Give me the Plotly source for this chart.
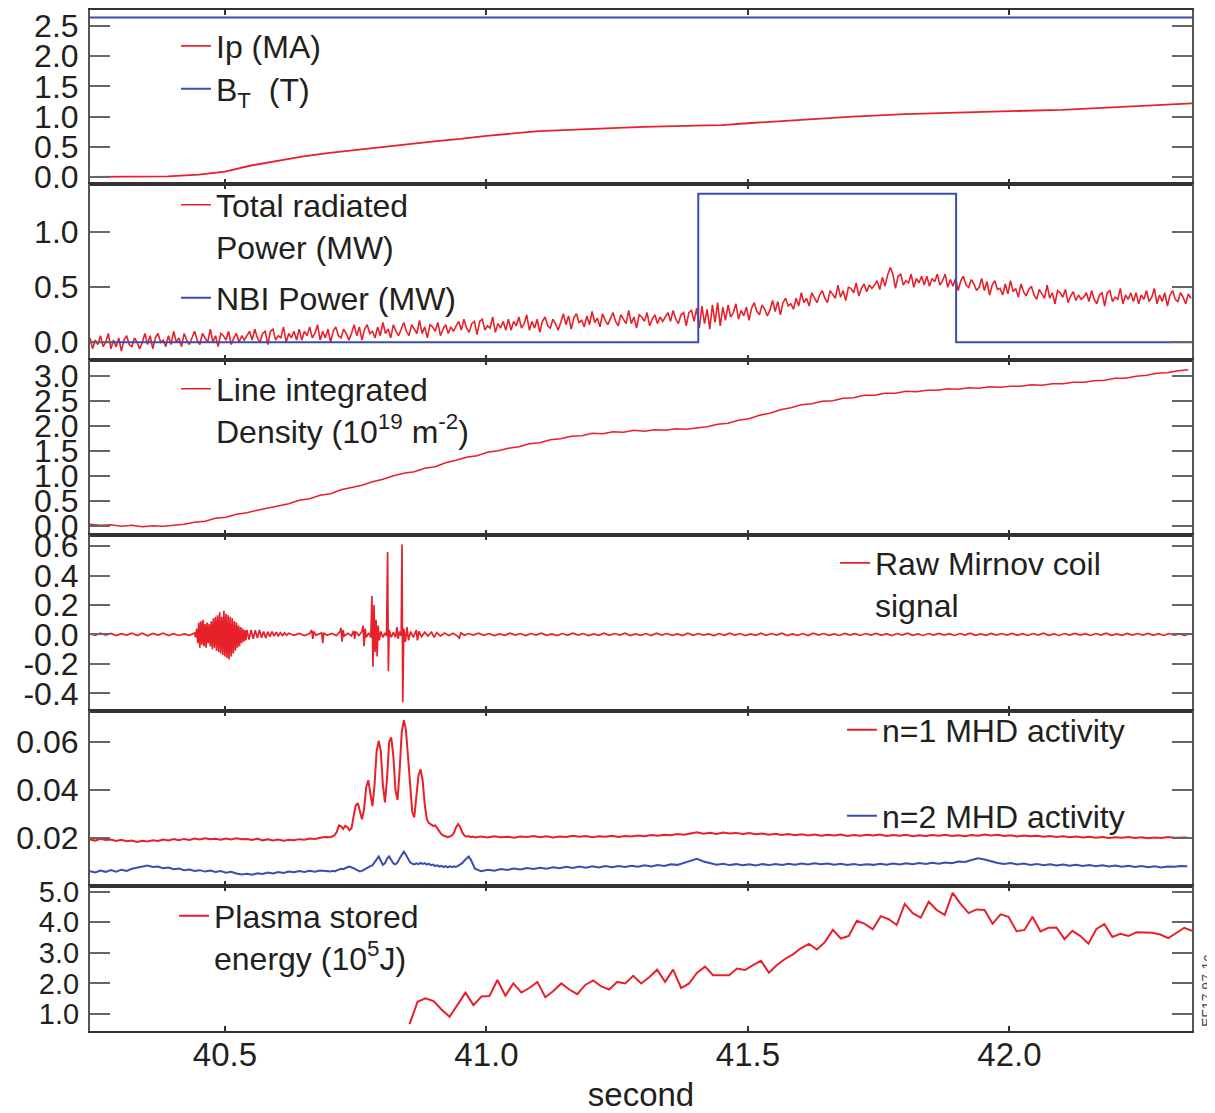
import numpy as np
import plotly.graph_objects as go
from plotly.subplots import make_subplots

# ---------------- data ----------------
x_range = [40.242, 42.349]
x_tickvals = [40.5, 41.0, 41.5, 42.0]
x_ticktext = ["40.5", "41.0", "41.5", "42.0"]

# Panel 1: plasma current and toroidal field
ip_t = [40.242, 40.30, 40.39, 40.45, 40.50, 40.55, 40.60, 40.65, 40.70, 40.75,
        40.80, 40.85, 40.90, 40.95, 41.00, 41.10, 41.20, 41.30, 41.40, 41.45,
        41.50, 41.60, 41.70, 41.80, 41.90, 42.00, 42.10, 42.20, 42.30, 42.349]
ip_v = [0.0, 0.0, 0.01, 0.04, 0.09, 0.19, 0.27, 0.34, 0.40, 0.45,
        0.50, 0.55, 0.59, 0.63, 0.68, 0.76, 0.80, 0.83, 0.85, 0.86,
        0.89, 0.95, 1.00, 1.04, 1.07, 1.09, 1.11, 1.15, 1.19, 1.22]
bt_t = [40.242, 42.349]
bt_v = [2.64, 2.64]

# Panel 2: radiated power (sampled every 5 ms) and NBI power
prad_t0, prad_dt = 40.242, 0.005
prad_v = [
    0.04, -0.06, 0.02, -0.02, 0.06, -0.04, 0.00, 0.08, -0.06, 0.02, -0.04, 0.04, -0.08, 0.02, 0.06, -0.02, -0.04, 0.04, 0.00, -0.06,
    0.00, 0.08, -0.02, 0.06, -0.06, 0.04, 0.08, 0.00, 0.02, -0.04, 0.06, -0.02, 0.10, 0.00, 0.04, -0.04, 0.08, 0.02, -0.02, 0.04,
    0.10, 0.02, -0.02, 0.08, 0.04, 0.00, 0.12, 0.00, 0.06, -0.04, 0.08, 0.06, 0.02, 0.10, -0.02, 0.04, 0.08, 0.00, 0.06, 0.02,
    0.06, 0.10, 0.02, 0.12, 0.04, 0.00, 0.08, 0.10, -0.02, 0.10, 0.12, 0.02, 0.06, 0.04, 0.14, 0.00, 0.08, 0.04, 0.10, 0.02,
    0.12, 0.02, 0.10, 0.06, 0.14, 0.04, 0.08, 0.16, 0.02, 0.10, 0.04, 0.12, 0.00, 0.10, 0.14, 0.06, 0.04, 0.12, 0.08, 0.02,
    0.08, 0.16, 0.06, 0.14, 0.02, 0.12, 0.16, 0.08, 0.10, 0.04, 0.14, 0.06, 0.18, 0.08, 0.12, 0.04, 0.16, 0.10, 0.06, 0.12,
    0.18, 0.10, 0.06, 0.16, 0.12, 0.08, 0.20, 0.08, 0.14, 0.04, 0.16, 0.14, 0.10, 0.18, 0.06, 0.12, 0.16, 0.08, 0.14, 0.10,
    0.15, 0.19, 0.11, 0.21, 0.13, 0.09, 0.17, 0.19, 0.07, 0.19, 0.21, 0.11, 0.15, 0.13, 0.23, 0.09, 0.17, 0.13, 0.19, 0.11,
    0.21, 0.11, 0.19, 0.15, 0.23, 0.13, 0.17, 0.25, 0.11, 0.19, 0.13, 0.21, 0.09, 0.19, 0.23, 0.15, 0.13, 0.21, 0.17, 0.11,
    0.18, 0.26, 0.16, 0.24, 0.12, 0.22, 0.26, 0.18, 0.20, 0.14, 0.24, 0.16, 0.28, 0.18, 0.22, 0.14, 0.26, 0.20, 0.16, 0.22,
    0.27, 0.19, 0.15, 0.25, 0.21, 0.17, 0.29, 0.17, 0.23, 0.13, 0.25, 0.23, 0.19, 0.27, 0.15, 0.21, 0.25, 0.17, 0.23, 0.19,
    0.23, 0.27, 0.19, 0.29, 0.21, 0.17, 0.25, 0.27, 0.15, 0.27, 0.29, 0.19, 0.31, 0.13, 0.33, 0.17, 0.30, 0.12, 0.34, 0.18,
    0.36, 0.15, 0.32, 0.20, 0.34, 0.23, 0.27, 0.35, 0.21, 0.29, 0.24, 0.32, 0.20, 0.31, 0.36, 0.28, 0.25, 0.34, 0.30, 0.24,
    0.29, 0.38, 0.28, 0.37, 0.25, 0.36, 0.40, 0.33, 0.35, 0.30, 0.40, 0.33, 0.45, 0.36, 0.40, 0.33, 0.45, 0.40, 0.36, 0.43,
    0.47, 0.40, 0.36, 0.47, 0.43, 0.40, 0.52, 0.41, 0.47, 0.38, 0.50, 0.49, 0.45, 0.54, 0.42, 0.49, 0.53, 0.46, 0.52, 0.49,
    0.52, 0.56, 0.48, 0.59, 0.51, 0.61, 0.68, 0.62, 0.49, 0.60, 0.62, 0.52, 0.56, 0.54, 0.62, 0.50, 0.58, 0.54, 0.60, 0.52,
    0.60, 0.51, 0.58, 0.55, 0.62, 0.52, 0.56, 0.62, 0.50, 0.57, 0.51, 0.58, 0.47, 0.56, 0.60, 0.52, 0.50, 0.57, 0.53, 0.47,
    0.50, 0.58, 0.47, 0.55, 0.43, 0.52, 0.56, 0.48, 0.49, 0.43, 0.53, 0.44, 0.56, 0.46, 0.49, 0.41, 0.53, 0.46, 0.42, 0.48,
    0.51, 0.43, 0.39, 0.48, 0.44, 0.40, 0.52, 0.40, 0.45, 0.35, 0.47, 0.45, 0.41, 0.48, 0.36, 0.42, 0.46, 0.38, 0.43, 0.39,
    0.41, 0.45, 0.37, 0.47, 0.39, 0.35, 0.43, 0.45, 0.33, 0.45, 0.47, 0.37, 0.41, 0.39, 0.49, 0.35, 0.43, 0.39, 0.45, 0.37,
    0.45, 0.35, 0.43, 0.39, 0.47, 0.37, 0.41, 0.49, 0.35, 0.43, 0.37, 0.45, 0.33, 0.43, 0.47, 0.39, 0.37, 0.45, 0.41, 0.35, 0.44, 0.40]
nbi_t = [40.242, 41.405, 41.898, 42.349]
nbi_v = [0.0, 1.35, 0.0, 0.0]

# Panel 3: line integrated density (sampled every 20 ms)
dens_t0, dens_dt = 40.242, 0.02
dens_v = [0.03, 0.01, 0.02, -0.01, 0.01, -0.02, 0.00, -0.01, 0.01, 0.03,
          0.07, 0.09, 0.15, 0.17, 0.23, 0.26, 0.31, 0.35, 0.40, 0.44,
          0.51, 0.54, 0.61, 0.64, 0.72, 0.76, 0.81, 0.88, 0.93, 1.00,
          1.05, 1.08, 1.15, 1.18, 1.26, 1.31, 1.37, 1.40, 1.47, 1.50,
          1.55, 1.58, 1.64, 1.66, 1.72, 1.74, 1.79, 1.80, 1.85, 1.84,
          1.88, 1.87, 1.91, 1.89, 1.92, 1.91, 1.94, 1.93, 1.96, 1.98,
          2.03, 2.05, 2.11, 2.14, 2.21, 2.25, 2.32, 2.36, 2.42, 2.44,
          2.49, 2.50, 2.55, 2.56, 2.61, 2.61, 2.65, 2.65, 2.69, 2.68,
          2.71, 2.71, 2.74, 2.73, 2.76, 2.75, 2.78, 2.77, 2.79, 2.79,
          2.82, 2.81, 2.84, 2.84, 2.87, 2.87, 2.90, 2.91, 2.95, 2.95,
          2.99, 3.01, 3.05, 3.06, 3.10, 3.12]

# Panel 4: raw Mirnov coil signal
mir_base_t0, mir_base_dt = 40.242, 0.01
mir_base_v = [0.004, -0.007, 0.008, -0.005, 0.007, -0.008, 0.005, -0.004, 0.009, -0.007,
              0.008, -0.009, 0.007, -0.005, 0.009, -0.008, 0.005, -0.007, 0.004, -0.006]
mir_burst_t0, mir_burst_dt = 40.442, 0.002
mir_burst_v = [0.01, -0.02, 0.04, -0.06, 0.08, -0.09, 0.09, -0.07, 0.10, -0.08,
               0.07, -0.09, 0.08, -0.06, 0.07, -0.08, 0.09, -0.10, 0.11, -0.09,
               0.12, -0.11, 0.13, -0.12, 0.15, -0.13, 0.12, -0.14, 0.16, -0.15,
               0.14, -0.16, 0.13, -0.17, 0.12, -0.15, 0.11, -0.13, 0.09, -0.11,
               0.08, -0.09, 0.06, -0.08, 0.05, -0.06, 0.04, -0.05, 0.03, -0.04, 0.03]
mir_trail_t0, mir_trail_dt = 40.546, 0.004
mir_trail_v = [-0.035, 0.03, -0.03, 0.028, -0.025, 0.03, -0.022, 0.02, -0.025, 0.018,
               -0.015, 0.02, -0.012, 0.015, -0.01, 0.012, -0.008, 0.01, -0.006]
mir_event_t = [40.622, 40.632, 40.642, 40.652, 40.662, 40.666, 40.668, 40.670, 40.674, 40.680,
               40.685, 40.687, 40.689, 40.695, 40.705, 40.713, 40.720, 40.722, 40.724, 40.726,
               40.728, 40.735, 40.742, 40.746, 40.748, 40.750, 40.756, 40.762, 40.764, 40.766,
               40.768, 40.770, 40.775, 40.779, 40.781, 40.783, 40.785, 40.787, 40.789, 40.791,
               40.793, 40.795, 40.798, 40.802, 40.806, 40.809, 40.811, 40.8125, 40.814, 40.818,
               40.822, 40.826, 40.829, 40.831, 40.834, 40.837, 40.8385, 40.840, 40.842, 40.845,
               40.848, 40.851, 40.855, 40.860, 40.866, 40.868, 40.871, 40.876, 40.882, 40.888,
               40.895, 40.900, 40.905, 40.912, 40.920, 40.928, 40.936, 40.944, 40.948, 40.951,
               40.958, 40.966, 40.975]
mir_event_v = [0.008, -0.006, 0.007, -0.008, 0.006, 0.03, -0.03, 0.02, -0.005, 0.006,
               0.01, -0.06, 0.01, -0.006, 0.007, -0.008, 0.02, 0.045, -0.05, 0.03,
               -0.01, 0.008, -0.01, 0.025, -0.03, 0.02, -0.008, 0.02, 0.06, -0.08,
               0.04, -0.02, 0.01, -0.02, 0.26, -0.22, 0.20, -0.12, 0.10, -0.15,
               0.06, -0.04, 0.02, -0.02, 0.01, -0.01, 0.56, -0.25, 0.03, -0.02,
               0.015, -0.02, 0.05, -0.03, 0.02, -0.01, 0.61, -0.46, 0.04, -0.05,
               0.05, -0.04, 0.02, -0.02, 0.03, -0.04, 0.02, -0.015, 0.015, -0.01,
               0.015, -0.02, 0.012, -0.01, 0.01, -0.008, 0.008, -0.01, -0.025, 0.01,
               -0.006, 0.006, -0.005]
mir_tail_t0, mir_tail_dt = 40.985, 0.01
mir_tail_v = [0.008, -0.006, 0.006, -0.008, 0.004, -0.006, 0.008, -0.004, 0.006, -0.008,
              0.006, -0.004, 0.008, -0.006, 0.004, -0.008, 0.006, -0.006, 0.008, -0.004,
              0.006, -0.008, 0.004, -0.006, 0.008, -0.006, 0.006, -0.004, 0.008, -0.008,
              0.004, -0.006, 0.006, -0.008, 0.008, -0.004, 0.006, -0.006, 0.004, -0.008,
              0.008, -0.006, 0.006, -0.004, 0.004, -0.008, 0.006, -0.006, 0.008, -0.004,
              0.006, -0.008, 0.004, -0.006, 0.008, -0.006, 0.006, -0.004, 0.008, -0.008,
              0.004, -0.006, 0.006, -0.008, 0.008, -0.004, 0.006, -0.006, 0.004, -0.007,
              0.007, -0.005, 0.005, -0.007, 0.006, -0.004, 0.007, -0.006, 0.005, -0.008,
              0.006, -0.005, 0.008, -0.006, 0.004, -0.007, 0.006, -0.005, 0.007, -0.004,
              0.005, -0.007, 0.006, -0.005, 0.008, -0.006, 0.004, -0.006, 0.007, -0.005,
              0.006, -0.004, 0.007, -0.006, 0.005, -0.007, 0.006, -0.005, 0.008, -0.006,
              0.004, -0.007, 0.006, -0.005, 0.007, -0.004, 0.005, -0.007, 0.006, -0.005,
              0.008, -0.006, 0.004, -0.006, 0.007, -0.005, 0.006, -0.004, 0.007, -0.006,
              0.005, -0.007, 0.006, -0.005, 0.004, -0.006, 0.005]

# Panel 5: MHD activity (values in units of 1e-3), three sampling segments
mhd_seg_a = (40.242, 0.01)
mhd_seg_b = (40.702, 0.004)
mhd_seg_c = (40.990, 0.0125)
n1_a = [19.4, 18.9, 19.6, 19.1, 19.3, 18.7, 19.2, 18.6, 18.9, 18.3,
        18.8, 18.5, 19.0, 18.7, 19.3, 18.9, 19.5, 19.1, 19.6, 19.2,
        19.8, 19.4, 19.9, 19.5, 19.7, 19.3, 19.8, 19.4, 19.9, 19.5,
        19.6, 19.2, 19.7, 19.0, 19.4, 18.9, 19.3, 18.8, 19.2, 19.0,
        19.5, 19.3, 19.8, 19.6, 20.1, 20.4]
n1_b = [20.3, 20.7, 21.2, 22.5, 25.2, 24.8, 23.8, 25.0, 24.5, 23.2,
        24.0, 29.0, 33.5, 34.5, 31.0, 27.8, 32.0, 41.0, 44.0, 38.0,
        33.2, 42.0, 56.0, 60.5, 56.0, 42.0, 34.8, 45.0, 60.0, 61.8,
        54.0, 40.0, 35.8, 48.0, 64.0, 69.0, 65.0, 54.0, 40.0, 31.0,
        28.5, 36.0, 46.0, 48.5, 44.0, 34.0, 27.8, 26.2, 25.5, 25.0,
        25.2, 24.0, 22.5, 21.5, 21.0, 20.5, 20.3, 20.6, 21.0, 22.2,
        24.5, 25.8, 24.5, 22.2, 21.0, 20.5, 20.8, 20.3, 20.6, 20.2]
n1_c = [20.6, 20.2, 20.7, 20.3, 20.5, 20.1, 20.6, 20.4, 20.8, 20.3,
        20.7, 20.2, 20.6, 20.4, 20.9, 20.5, 20.8, 20.3, 20.7, 20.5,
        20.9, 20.4, 20.8, 20.6, 21.0, 20.7, 21.2, 20.9, 21.3, 21.1,
        21.6, 21.3, 21.9, 22.4, 21.8, 22.2, 21.7, 22.3, 21.9, 22.1,
        21.6, 22.0, 21.5, 21.8, 21.3, 21.7, 21.2, 21.6, 21.1, 21.5,
        21.0, 21.4, 20.9, 21.3, 21.0, 21.4, 20.8, 21.2, 20.9, 21.3,
        21.0, 21.4, 20.8, 21.2, 20.9, 21.3, 20.7, 21.1, 20.8, 21.2,
        20.9, 21.3, 20.8, 21.1, 20.7, 21.2, 20.9, 21.4, 21.0, 21.3,
        20.8, 21.1, 20.6, 21.0, 20.7, 20.9, 20.5, 20.8, 20.4, 20.7,
        20.3, 20.6, 20.2, 20.5, 20.1, 20.4, 20.0, 20.3, 20.1, 20.4,
        20.0, 20.3, 19.9, 20.2, 20.0, 20.4, 20.1, 20.3, 20.2]
n2_a = [6.2, 5.6, 6.4, 5.9, 6.6, 6.0, 6.8, 6.3, 7.2, 7.6,
        8.3, 8.5, 7.9, 8.1, 7.4, 7.7, 7.0, 7.3, 6.6, 6.9,
        6.3, 6.6, 6.0, 6.4, 5.8, 6.2, 5.5, 5.9, 5.2, 4.8,
        5.1, 4.7, 5.3, 5.0, 5.6, 5.2, 5.8, 5.4, 6.0, 5.7,
        6.2, 5.8, 6.3, 5.9, 6.4, 6.1]
n2_b = [6.0, 6.3, 6.1, 6.5, 6.8, 7.2, 7.0, 7.5, 7.8, 8.1,
        7.9, 7.4, 6.9, 6.4, 6.1, 6.3, 6.8, 7.4, 8.0, 8.3,
        8.6, 9.8, 11.5, 12.3, 10.5, 8.8, 9.5, 11.4, 12.3, 10.6,
        9.4, 9.0, 9.8, 11.5, 13.2, 14.3, 13.0, 11.2, 9.9, 9.3,
        9.0, 9.4, 9.1, 9.6, 9.2, 9.5, 8.9, 9.3, 8.7, 8.9,
        8.3, 8.6, 8.1, 8.4, 7.9, 8.3, 7.8, 8.2, 7.9, 8.1,
        8.0, 8.4, 8.9, 9.6, 10.6, 11.6, 12.3, 11.0, 9.0, 7.2]
n2_c = [6.2, 6.8, 6.4, 7.1, 6.7, 7.3, 6.9, 7.5, 7.1, 7.6,
        7.2, 7.8, 7.4, 8.0, 7.5, 8.1, 7.6, 8.2, 7.7, 8.3,
        7.8, 8.3, 7.9, 8.4, 8.0, 8.6, 8.1, 8.7, 8.3, 9.0,
        8.8, 9.7, 10.5, 11.3, 10.2, 9.4, 8.9, 9.3, 8.7, 9.1,
        8.6, 9.0, 8.5, 9.1, 8.7, 9.2, 8.8, 9.3, 8.9, 9.4,
        9.0, 9.5, 9.1, 9.4, 8.9, 9.3, 8.8, 9.2, 8.7, 9.1,
        8.8, 9.3, 8.9, 9.4, 9.0, 9.5, 9.1, 9.6, 9.2, 9.7,
        9.3, 9.8, 9.5, 10.2, 10.0, 10.8, 11.5, 11.0, 10.2, 9.6,
        9.2, 9.6, 9.0, 9.4, 8.8, 9.2, 8.6, 9.0, 8.5, 8.9,
        8.4, 8.8, 8.3, 8.7, 8.2, 8.6, 8.1, 8.5, 8.0, 8.4,
        7.9, 8.3, 7.8, 8.2, 7.7, 8.1, 8.0, 8.3, 8.2]

# Panel 6: plasma stored energy (10^5 J)
wdia_t0, wdia_dt = 40.853, 0.01527
wdia_v = [0.67, 1.40, 1.51, 1.42, 1.15, 0.91, 1.30, 1.70, 1.29, 1.57,
          1.59, 2.11, 1.60, 2.00, 1.70, 1.85, 2.05, 1.55, 1.75, 2.00,
          1.80, 1.65, 1.95, 2.10, 1.90, 1.80, 2.05, 2.00, 2.25, 2.00,
          2.20, 2.45, 2.05, 2.45, 1.85, 2.00, 2.35, 2.55, 2.27, 2.27,
          2.27, 2.49, 2.44, 2.60, 2.74, 2.35, 2.60, 2.80, 2.95, 3.15,
          3.29, 3.11, 3.35, 3.75, 3.47, 3.55, 4.05, 3.95, 3.77, 4.20,
          4.10, 3.91, 4.60, 4.30, 4.15, 4.67, 4.40, 4.24, 4.96, 4.60,
          4.30, 4.42, 4.40, 3.95, 4.26, 4.18, 3.71, 3.75, 4.18, 3.70,
          3.82, 3.83, 3.45, 3.72, 3.55, 3.30, 3.78, 3.94, 3.52, 3.62,
          3.55, 3.67, 3.67, 3.66, 3.60, 3.48, 3.65, 3.82, 3.72]

# Tick labels per panel
p1_ticks = [0.0, 0.5, 1.0, 1.5, 2.0, 2.5]
p1_text = ["0.0", "0.5", "1.0", "1.5", "2.0", "2.5"]
p2_ticks = [0.0, 0.5, 1.0]
p2_text = ["0.0", "0.5", "1.0"]
p3_ticks = [0.0, 0.5, 1.0, 1.5, 2.0, 2.5, 3.0]
p3_text = ["0.0", "0.5", "1.0", "1.5", "2.0", "2.5", "3.0"]
p4_ticks = [-0.4, -0.2, 0.0, 0.2, 0.4, 0.6]
p4_text = ["-0.4", "-0.2", "0.0", "0.2", "0.4", "0.6"]
p5_ticks = [0.02, 0.04, 0.06]
p5_text = ["0.02", "0.04", "0.06"]
p6_ticks = [1.0, 2.0, 3.0, 4.0, 5.0]
p6_text = ["1.0", "2.0", "3.0", "4.0", "5.0"]

y_ranges = [[-0.116, 2.765], [-0.161, 1.439], [-0.186, 3.314],
            [-0.520, 0.675], [0.0, 0.0728], [0.444, 5.186]]

# ---------------- helpers ----------------
def grid(t0, dt, n):
    return [round(t0 + dt * i, 5) for i in range(n)]

RED = "#e8202a"
BLUE = "#3a4db0"
FONT = "Liberation Sans, Arial, Helvetica, sans-serif"
TXT = "#231f20"

prad_t = grid(prad_t0, prad_dt, len(prad_v))
dens_t = grid(dens_t0, dens_dt, len(dens_v))
mir_t = (grid(mir_base_t0, mir_base_dt, len(mir_base_v))
         + grid(mir_burst_t0, mir_burst_dt, len(mir_burst_v))
         + grid(mir_trail_t0, mir_trail_dt, len(mir_trail_v))
         + mir_event_t
         + grid(mir_tail_t0, mir_tail_dt, len(mir_tail_v)))
mir_v = mir_base_v + mir_burst_v + mir_trail_v + mir_event_v + mir_tail_v
mhd_t = (grid(*mhd_seg_a, len(n1_a)) + grid(*mhd_seg_b, len(n1_b))
         + grid(*mhd_seg_c, len(n1_c)))
mhd_n1 = np.array(n1_a + n1_b + n1_c) * 1e-3
mhd_n2 = np.array(n2_a + n2_b + n2_c) * 1e-3
wdia_t = grid(wdia_t0, wdia_dt, len(wdia_v))

# ---------------- figure ----------------
fig = make_subplots(rows=6, cols=1, shared_xaxes=True, vertical_spacing=0)

fig.add_trace(go.Scatter(x=ip_t, y=ip_v, mode="lines", name="Ip (MA)",
                         line=dict(color=RED, width=1.8), legend="legend"), row=1, col=1)
fig.add_trace(go.Scatter(x=bt_t, y=bt_v, mode="lines", name="B<sub>T</sub>\u00a0 (T)",
                         line=dict(color=BLUE, width=2), legend="legend2"), row=1, col=1)
fig.add_trace(go.Scatter(x=prad_t, y=prad_v, mode="lines",
                         name="Total radiated<br>Power (MW)",
                         line=dict(color=RED, width=1.6), legend="legend3"), row=2, col=1)
fig.add_trace(go.Scatter(x=nbi_t, y=nbi_v, mode="lines", name="NBI Power (MW)",
                         line=dict(color=BLUE, width=2, shape="hv"), legend="legend4"), row=2, col=1)
fig.add_trace(go.Scatter(x=dens_t, y=dens_v, mode="lines",
                         name="Line integrated<br>Density (10<sup>19</sup> m<sup>-2</sup>)",
                         line=dict(color=RED, width=1.6), legend="legend5"), row=3, col=1)
fig.add_trace(go.Scatter(x=mir_t, y=mir_v, mode="lines",
                         name="Raw Mirnov coil<br>signal",
                         line=dict(color=RED, width=1.7), legend="legend6"), row=4, col=1)
fig.add_trace(go.Scatter(x=mhd_t, y=mhd_n1, mode="lines", name="n=1 MHD activity",
                         line=dict(color=RED, width=2), legend="legend7"), row=5, col=1)
fig.add_trace(go.Scatter(x=mhd_t, y=mhd_n2, mode="lines", name="n=2 MHD activity",
                         line=dict(color=BLUE, width=2), legend="legend8"), row=5, col=1)
fig.add_trace(go.Scatter(x=wdia_t, y=wdia_v, mode="lines",
                         name="Plasma stored<br>energy (10<sup>5</sup>J)",
                         line=dict(color=RED, width=2), legend="legend9"), row=6, col=1)

domains = [[0.8296, 1.0], [0.6572, 0.8296], [0.4858, 0.6572],
           [0.3134, 0.4858], [0.1420, 0.3134], [0.0, 0.1420]]
tick_sets = [(p1_ticks, p1_text), (p2_ticks, p2_text), (p3_ticks, p3_text),
             (p4_ticks, p4_text), (p5_ticks, p5_text), (p6_ticks, p6_text)]
tick_sizes = [32, 32, 32, 32, 32, 29]

for i in range(6):
    sfx = "" if i == 0 else str(i + 1)
    fig.layout["yaxis" + sfx].update(
        domain=domains[i], range=y_ranges[i], automargin=False,
        tickvals=tick_sets[i][0], ticktext=tick_sets[i][1],
        showline=True, linecolor="#555", linewidth=2, mirror="ticks",
        ticks="inside", ticklen=20, tickwidth=2, tickcolor="#666",
        showgrid=False, zeroline=False, ticklabelstandoff=3,
        tickfont=dict(family=FONT, size=tick_sizes[i], color=TXT))
    fig.layout["xaxis" + sfx].update(
        range=x_range, tickvals=x_tickvals, ticktext=x_ticktext, automargin=False,
        showline=True, linecolor="#333", linewidth=2, mirror="ticks",
        ticks="inside", ticklen=5, tickwidth=2, tickcolor="#333",
        showgrid=False, zeroline=False, showticklabels=(i == 5),
        tickfont=dict(family=FONT, size=33, color=TXT))

fig.layout.xaxis6.update(ticklabelstandoff=-7,
                         title=dict(text="second", standoff=11,
                                    font=dict(family=FONT, size=33, color=TXT)))

# plot area in window pixels: x 90..1192, y 10..1031 (page body adds an 8 px offset)
def leg(px_left, py_center):
    return dict(x=(px_left - 90) / 1102, y=(1031 - py_center) / 1021,
                xanchor="left", yanchor="middle", valign="top",
                bgcolor="rgba(0,0,0,0)", borderwidth=0,
                font=dict(family=FONT, size=32, color=TXT))

fig.update_layout(
    width=1207, height=1105,
    margin=dict(l=82, r=23, t=2, b=82, autoexpand=False),
    paper_bgcolor="white", plot_bgcolor="white",
    showlegend=True,
    legend=leg(176, 46),
    legend2=leg(176, 89),
    legend3=leg(176, 226),
    legend4=leg(176, 298),
    legend5=leg(176, 410),
    legend6=leg(835, 584),
    legend7=leg(842, 730),
    legend8=leg(842, 816),
    legend9=leg(174, 937),
    annotations=[dict(text="EF17.97-1c", xref="paper", yref="paper",
                      x=(1207 - 90) / 1102, y=(1031 - 991) / 1021,
                      xanchor="center", yanchor="middle",
                      textangle=-90, showarrow=False,
                      font=dict(family=FONT, size=14, color="#444"))],
)

fig.write_html("out.html")
